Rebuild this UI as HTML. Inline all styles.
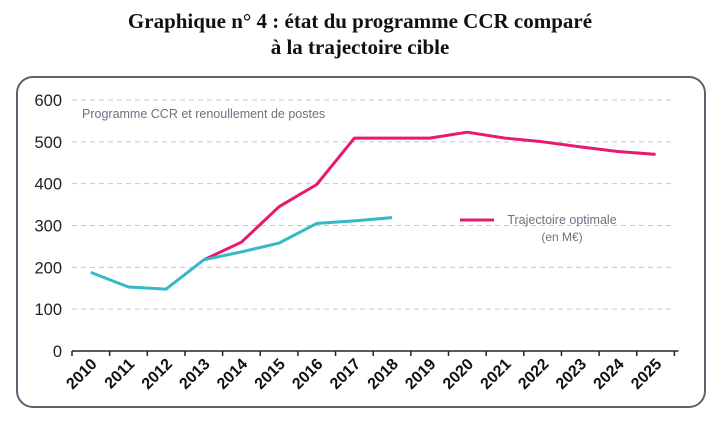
<!DOCTYPE html>
<html><head><meta charset="utf-8"><style>
body{margin:0;background:#fff;width:718px;height:421px;overflow:hidden}
svg{display:block}
</style></head><body>
<svg width="718" height="421" font-family="Liberation Sans, sans-serif">
<text x="360" y="28" text-anchor="middle" font-family="Liberation Serif, serif" font-weight="bold" font-size="21" fill="#111">Graphique n° 4 : état du programme CCR comparé</text>
<text x="360" y="54" text-anchor="middle" font-family="Liberation Serif, serif" font-weight="bold" font-size="21" fill="#111">à la trajectoire cible</text>
<rect x="17" y="77" width="688" height="330" rx="16" fill="#fff" stroke="#5a6270" stroke-width="2"/>
<text x="82" y="118" font-size="12.5" fill="#6b7380">Programme CCR et renoullement de postes</text>
<g id="grid"></g><g id="axes"></g><g id="series"></g>
<line x1="460" y1="220" x2="494" y2="220" stroke="#e8196e" stroke-width="3"/>
<text x="562" y="224" text-anchor="middle" font-size="12.5" fill="#6b7380">Trajectoire optimale</text>
<text x="562" y="241" text-anchor="middle" font-size="12" fill="#6b7380">(en M€)</text>
</svg>
<script>
const years=[2010,2011,2012,2013,2014,2015,2016,2017,2018,2019,2020,2021,2022,2023,2024,2025];
const yTicks=[0,100,200,300,400,500,600];
const ccrValues=[188,153,148,218,237,258,305,311,319,null,null,null,null,null,null,null];
const targetValues=[null,null,null,218,260,345,398,509,509,509,523,509,500,488,477,470];
const NS="http://www.w3.org/2000/svg";
const x0=72,bw=37.65,y0=351,ppu=0.4183;
const xs=i=>x0+bw*(i+0.5), ys=v=>y0-v*ppu;
function mk(t,a,p){const e=document.createElementNS(NS,t);for(const k in a)e.setAttribute(k,a[k]);p.appendChild(e);return e;}
const g=document.getElementById('grid'),ax=document.getElementById('axes'),s=document.getElementById('series');
yTicks.forEach(v=>{
 if(v>0){const l=mk('line',{x1:x0,x2:x0+bw*16,y1:ys(v),y2:ys(v),stroke:'#c4c7cc','stroke-width':1,'stroke-dasharray':'5,4'},g);
 
 }
 const t=mk('text',{x:62,y:ys(v)+6,'text-anchor':'end','font-size':16.5,fill:'#222'},ax);t.textContent=v;
 
 
});
const axl=mk('line',{x1:x0,x2:x0+bw*16+4,y1:y0,y2:y0,stroke:'#222','stroke-width':1.5},ax);


for(let i=0;i<=16;i++){const tk=mk('line',{x1:x0+bw*i,x2:x0+bw*i,y1:y0,y2:y0+5,stroke:'#222','stroke-width':1.5},ax);
 
 }
years.forEach((y,i)=>{const cx=xs(i)+7,cy=y0+14;
 const t=mk('text',{x:cx,y:cy,'text-anchor':'end','font-size':16,'font-weight':'bold',fill:'#111',transform:`rotate(-45 ${cx} ${cy})`},ax);t.textContent=y;
 
 });
function line(vals,color,name){const pts=[];vals.forEach((v,i)=>{if(v!=null)pts.push(xs(i).toFixed(1)+','+ys(v).toFixed(1));});
 const p=mk('polyline',{points:pts.join(' '),fill:'none',stroke:color,'stroke-width':3,'stroke-linejoin':'round'},s);
 
 }
line(targetValues,'#e8196e','series-trajectoire-optimale');
line(ccrValues,'#35b8c8','series-programme-ccr');
</script>
</body></html>
